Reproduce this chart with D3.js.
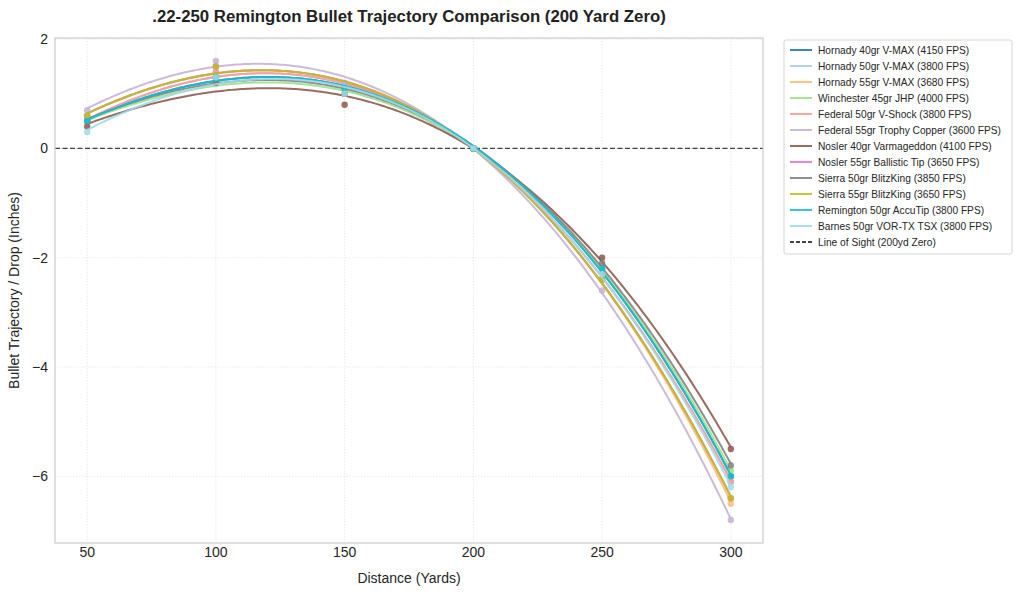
<!DOCTYPE html>
<html>
<head>
<meta charset="utf-8">
<script src="https://cdn.jsdelivr.net/npm/d3@7"></script>
<style>
  body { margin: 0; background: #fff; font-family: "Liberation Sans", Arial, sans-serif; }
</style>
</head>
<body>
<div id="chart"></div>
<script>
// distances (yards)
const distances = [50, 100, 150, 200, 250, 300];

const loadNames = [
  "Hornady 40gr V-MAX (4150 FPS)",
  "Hornady 50gr V-MAX (3800 FPS)",
  "Hornady 55gr V-MAX (3680 FPS)",
  "Winchester 45gr JHP (4000 FPS)",
  "Federal 50gr V-Shock (3800 FPS)",
  "Federal 55gr Trophy Copper (3600 FPS)",
  "Nosler 40gr Varmageddon (4100 FPS)",
  "Nosler 55gr Ballistic Tip (3650 FPS)",
  "Sierra 50gr BlitzKing (3850 FPS)",
  "Sierra 55gr BlitzKing (3650 FPS)",
  "Remington 50gr AccuTip (3800 FPS)",
  "Barnes 50gr VOR-TX TSX (3800 FPS)"
];

// trajectory in inches at each distance
const hornady40 = [0.5, 1.3, 1.1, 0, -2.2, -6.0];
const hornady50 = [0.5, 1.4, 1.1, 0, -2.3, -6.1];
const hornady55 = [0.6, 1.5, 1.1, 0, -2.4, -6.5];
const winchester45 = [0.5, 1.2, 1.0, 0, -2.2, -5.9];
const federal50 = [0.5, 1.4, 1.1, 0, -2.3, -6.1];
const federal55 = [0.7, 1.6, 1.2, 0, -2.6, -6.8];
const nosler40 = [0.4, 1.2, 0.8, 0, -2.0, -5.5];
const nosler55 = [0.6, 1.5, 1.1, 0, -2.4, -6.4];
const sierra50 = [0.5, 1.3, 1.0, 0, -2.1, -5.8];
const sierra55 = [0.6, 1.5, 1.1, 0, -2.4, -6.4];
const remington50 = [0.5, 1.3, 1.1, 0, -2.2, -6.0];
const barnes50 = [0.3, 1.3, 1.0, 0, -2.3, -6.2];

const seriesValues = [hornady40, hornady50, hornady55, winchester45, federal50, federal55,
                      nosler40, nosler55, sierra50, sierra55, remington50, barnes50];

const xTicks = [50, 100, 150, 200, 250, 300];
const yTicks = [2, 0, -2, -4, -6];

const colors = ["#1f77b4", "#aec7e8", "#ffbb78", "#98df8a", "#ff9896", "#c5b0d5",
                "#8c564b", "#e377c2", "#7f7f7f", "#bcbd22", "#17becf", "#9edae5"];

// least squares polynomial fit (like np.polyfit)
function polyfit(xs, ys, deg) {
  let n = deg + 1;
  let A = [];
  for (let i = 0; i < n; i++) {
    A.push([]);
    for (let j = 0; j < n; j++) A[i].push(d3.sum(xs, x => Math.pow(x, i + j)));
    A[i].push(d3.sum(xs, (x, k) => Math.pow(x, i) * ys[k]));
  }
  for (let c = 0; c < n; c++) {
    let p = c;
    for (let r = c + 1; r < n; r++) if (Math.abs(A[r][c]) > Math.abs(A[p][c])) p = r;
    [A[c], A[p]] = [A[p], A[c]];
    for (let r = 0; r < n; r++) {
      if (r === c) continue;
      let f = A[r][c] / A[c][c];
      for (let k = c; k <= n; k++) A[r][k] -= f * A[c][k];
    }
  }
  return A.map((row, i) => row[n] / row[i]);
}

let w = 1024, h = 595;
let margin = {top: 38, right: 261, bottom: 52, left: 55};

let svg = d3.select("#chart").append("svg")
  .attr("width", w)
  .attr("height", h);

let allVals = seriesValues.flat();
let yMin = d3.min(allVals), yMax = d3.max(allVals);
let yPad = (yMax - yMin) * 0.05;

let x = d3.scaleLinear()
  .domain([37.5, 312.5])
  .range([margin.left, w - margin.right]);
let y = d3.scaleLinear()
  .domain([yMin - yPad, yMax + yPad])
  .range([h - margin.bottom, margin.top]);

// grid
svg.append("g").selectAll("line")
  .data(xTicks).enter().append("line")
  .attr("x1", d => x(d)).attr("x2", d => x(d))
  .attr("y1", margin.top).attr("y2", h - margin.bottom)
  .attr("stroke", "#e3e3e3").attr("stroke-width", 0.8)
  .attr("stroke-dasharray", "1.5,1.5");
svg.append("g").selectAll("line")
  .data(yTicks).enter().append("line")
  .attr("x1", margin.left).attr("x2", w - margin.right)
  .attr("y1", d => y(d)).attr("y2", d => y(d))
  .attr("stroke", "#e3e3e3").attr("stroke-width", 0.8)
  .attr("stroke-dasharray", "1.5,1.5");

// zero line (line of sight)
svg.append("line")
  .attr("x1", margin.left).attr("x2", w - margin.right)
  .attr("y1", y(0)).attr("y2", y(0))
  .attr("stroke", "#222").attr("stroke-width", 1.3)
  .attr("stroke-opacity", 0.85)
  .attr("stroke-dasharray", "5,2.5");

// fitted curves + points
let line = d3.line().x(d => x(d[0])).y(d => y(d[1]));
let xs = d3.range(50, 300.01, 1);

seriesValues.forEach((vals, i) => {
  let coef = polyfit(distances, vals, 3);
  let pts = xs.map(v => [v, coef.reduce((s, c, k) => s + c * Math.pow(v, k), 0)]);
  svg.append("path")
    .datum(pts)
    .attr("d", line)
    .attr("fill", "none")
    .attr("stroke", colors[i])
    .attr("stroke-width", 2)
    .attr("stroke-opacity", 0.88);
  svg.append("g").selectAll("circle")
    .data(distances.map((dd, k) => [dd, vals[k]]))
    .enter().append("circle")
    .attr("cx", d => x(d[0]))
    .attr("cy", d => y(d[1]))
    .attr("r", 3.2)
    .attr("fill", colors[i])
    .attr("fill-opacity", 0.85);
});

// axes frame
svg.append("rect")
  .attr("x", margin.left).attr("y", margin.top)
  .attr("width", w - margin.left - margin.right)
  .attr("height", h - margin.top - margin.bottom)
  .attr("fill", "none").attr("stroke", "#cccccc").attr("stroke-width", 1.2);

// tick labels
let fmt = d => d < 0 ? "\u2212" + Math.abs(d) : String(d);
svg.append("g").selectAll("text")
  .data(xTicks).enter().append("text")
  .attr("x", d => x(d)).attr("y", h - margin.bottom + 14)
  .attr("text-anchor", "middle")
  .style("font-size", "14px").style("fill", "#262626")
  .text(d => d);
svg.append("g").selectAll("text")
  .data(yTicks).enter().append("text")
  .attr("x", margin.left - 7).attr("y", d => y(d) + 5)
  .attr("text-anchor", "end")
  .style("font-size", "14px").style("fill", "#262626")
  .text(fmt);

// axis labels and title
svg.append("text")
  .attr("x", (margin.left + w - margin.right) / 2).attr("y", 583)
  .attr("text-anchor", "middle")
  .style("font-size", "14px").style("fill", "#262626")
  .text("Distance (Yards)");
svg.append("text")
  .attr("transform", `translate(19, ${(margin.top + h - margin.bottom) / 2}) rotate(-90)`)
  .attr("text-anchor", "middle")
  .style("font-size", "14px").style("fill", "#262626")
  .text("Bullet Trajectory / Drop (Inches)");
svg.append("text")
  .attr("x", (margin.left + w - margin.right) / 2).attr("y", 22)
  .attr("text-anchor", "middle")
  .style("font-size", "16.8px").style("font-weight", "bold").style("fill", "#222")
  .text(".22-250 Remington Bullet Trajectory Comparison (200 Yard Zero)");

// legend
let legend = svg.append("g").attr("transform", "translate(784, 40)");
legend.append("rect")
  .attr("width", 228).attr("height", 214)
  .attr("fill", "#fff").attr("stroke", "#d5d5d5").attr("stroke-width", 1)
  .attr("rx", 2);
let legendItems = loadNames.map((n, i) => ({name: n, color: colors[i], dash: null}));
legendItems.push({name: "Line of Sight (200yd Zero)", color: "#222", dash: "4,2"});
let item = legend.selectAll(".item")
  .data(legendItems).enter().append("g")
  .attr("transform", (d, i) => `translate(0, ${10 + i * 16})`);
item.append("line")
  .attr("x1", 6).attr("x2", 28)
  .attr("stroke", d => d.color)
  .attr("stroke-width", 2)
  .attr("stroke-opacity", d => d.dash ? 0.85 : 0.88)
  .attr("stroke-dasharray", d => d.dash);
item.append("text")
  .attr("x", 34).attr("y", 3.5)
  .style("font-size", "10.2px").style("fill", "#262626")
  .text(d => d.name);
</script>
</body>
</html>
